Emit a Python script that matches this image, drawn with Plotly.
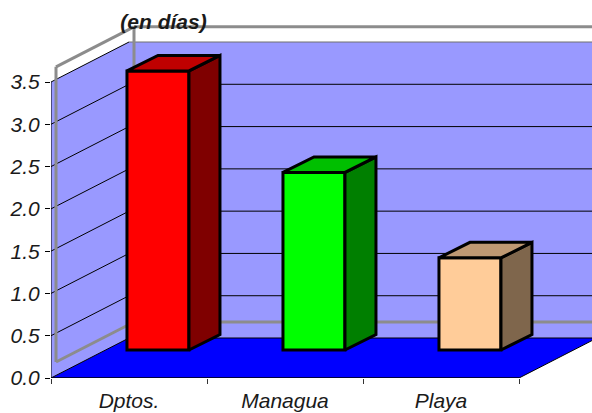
import plotly.graph_objects as go

# Data
categories = ["Dptos.", "Managua", "Playa"]
values = [3.3, 2.1, 1.09]
y_ticks = [0, 0.5, 1, 1.5, 2, 2.5, 3, 3.5]
y_labels = ["0.0", "0.5", "1.0", "1.5", "2.0", "2.5", "3.0", "3.5"]

front_colors = ["#FF0000", "#00FF00", "#FFCC99"]
top_colors = ["#BF0000", "#00BF00", "#BF9973"]
side_colors = ["#7F0000", "#007F00", "#7F664C"]

# Oblique projection, in axis units
X_UNIT = 156.0
Y_UNIT = 84.57
left, right = -0.5, 2.5
wall_dx, wall_dy = 78 / X_UNIT, 40 / Y_UNIT
bar_dx, bar_dy = 31 / X_UNIT, 15.5 / Y_UNIT
bar_width = 62 / X_UNIT
bar_offset = -0.013
bar_base = 28 / Y_UNIT
x_end = left + 541 / X_UNIT
y_end = 378 / Y_UNIT
frame_dx, frame_dy = 5 / X_UNIT, 16 / Y_UNIT
top_val = y_ticks[-1]


def poly(points):
    return "M " + " L ".join(f"{x},{y}" for x, y in points) + " Z"


def wall_shape(points, fill):
    return dict(type="path", path=poly(points), xref="x", yref="y", layer="below",
                fillcolor=fill, line=dict(width=0))


def line_shape(x0, y0, x1, y1, color="black", width=1):
    return dict(type="line", x0=x0, y0=y0, x1=x1, y1=y1, xref="x", yref="y", layer="below",
                line=dict(color=color, width=width))


bx, by = left + wall_dx, wall_dy  # back left corner of the floor
far = right + wall_dx + 0.1

shapes = [
    wall_shape([(left, 0), (left, top_val), (bx, top_val + by), (bx, by)], "#9999FF"),
    wall_shape([(bx, by), (bx, top_val + by), (far, top_val + by), (far, by)], "#9999FF"),
    wall_shape([(left, 0), (right, 0), (right + wall_dx, by), (bx, by)], "#0000FF"),
]

# Gridlines over both walls
for v in y_ticks:
    shapes.append(line_shape(left, v, bx, v + by))
    back_color = "#707070" if v == top_val else "black"
    shapes.append(line_shape(bx, v + by, far, v + by, color=back_color))
shapes.append(line_shape(right, 0, right + wall_dx, by))

# Grey frame that sits slightly off the walls
fx, fy = left + frame_dx, frame_dy
gray = "#8C8C8C"
gw = 3
ft = fy + top_val - 0.01
shapes += [
    line_shape(fx, fy, fx, ft, gray, gw),
    line_shape(fx, ft, fx + wall_dx, ft + by, gray, gw),
    line_shape(fx + wall_dx, ft + by, far, ft + by, gray, gw),
    line_shape(fx + wall_dx, fy + by, fx + wall_dx, ft + by, gray, gw),
    line_shape(fx, fy, fx + wall_dx, fy + by, gray, gw),
    line_shape(fx + wall_dx, fy + by, far, fy + by, gray, gw),
]

fig = go.Figure()

# Front faces
xpos = list(range(len(categories)))
fig.add_trace(go.Bar(
    x=xpos, y=values, base=bar_base, width=bar_width, offset=bar_offset,
    marker=dict(color=front_colors, line=dict(color="black", width=3)),
    hoverinfo="skip",
))

# Top and side faces come from the same values
for i, val in enumerate(values):
    x0 = i + bar_offset
    x1 = x0 + bar_width
    y0 = bar_base
    y1 = bar_base + val
    side = [(x1, y0), (x1 + bar_dx, y0 + bar_dy), (x1 + bar_dx, y1 + bar_dy), (x1, y1), (x1, y0)]
    top = [(x0, y1), (x0 + bar_dx, y1 + bar_dy), (x1 + bar_dx, y1 + bar_dy), (x1, y1), (x0, y1)]
    for pts, col in ((side, side_colors[i]), (top, top_colors[i])):
        fig.add_trace(go.Scatter(
            x=[p[0] for p in pts], y=[p[1] for p in pts], mode="lines", fill="toself",
            fillcolor=col, line=dict(color="black", width=3), hoverinfo="skip",
        ))

# Axis lines stop where the walls stop, so they are drawn as traces
fig.add_trace(go.Scatter(x=[left, left], y=[0, top_val], mode="lines", cliponaxis=False,
                         line=dict(color="black", width=1), hoverinfo="skip"))
fig.add_trace(go.Scatter(x=[left, right], y=[0, 0], mode="lines", cliponaxis=False,
                         line=dict(color="black", width=1.5), hoverinfo="skip"))

tick_font = dict(family="Liberation Sans, Arial, sans-serif", size=21, color="#1a1a1a", style="italic")

fig.update_layout(
    width=592,
    height=413,
    margin=dict(l=51, r=0, t=0, b=35, pad=0),
    paper_bgcolor="white",
    plot_bgcolor="white",
    showlegend=False,
    barmode="overlay",
    shapes=shapes,
    title=dict(
        text="(en días)",
        x=163.5 / 592,
        y=1 - 22 / 413,
        xref="container",
        yref="container",
        xanchor="center",
        yanchor="middle",
        font=dict(family="Liberation Sans, Arial, sans-serif", size=21, color="#1a1a1a",
                  weight="bold", style="italic"),
    ),
    xaxis=dict(
        range=[left, x_end],
        tickvals=xpos,
        ticktext=categories,
        tickfont=tick_font,
        ticks="",
        ticklabelstandoff=8,
        showgrid=False,
        zeroline=False,
        showline=False,
        minor=dict(tickvals=[-0.5, 0.5, 1.5, 2.5], ticks="outside", ticklen=5,
                   tickcolor="#333333", tickwidth=1, showgrid=False),
    ),
    yaxis=dict(
        range=[0, y_end],
        tickvals=y_ticks,
        ticktext=y_labels,
        tickfont=tick_font,
        ticks="outside",
        ticklen=5,
        tickcolor="black",
        tickwidth=1,
        ticklabelstandoff=1,
        showgrid=False,
        zeroline=False,
        showline=False,
    ),
)

fig.write_html("out.html", config={"displayModeBar": False},
               post_script="document.body.style.margin='0';")
